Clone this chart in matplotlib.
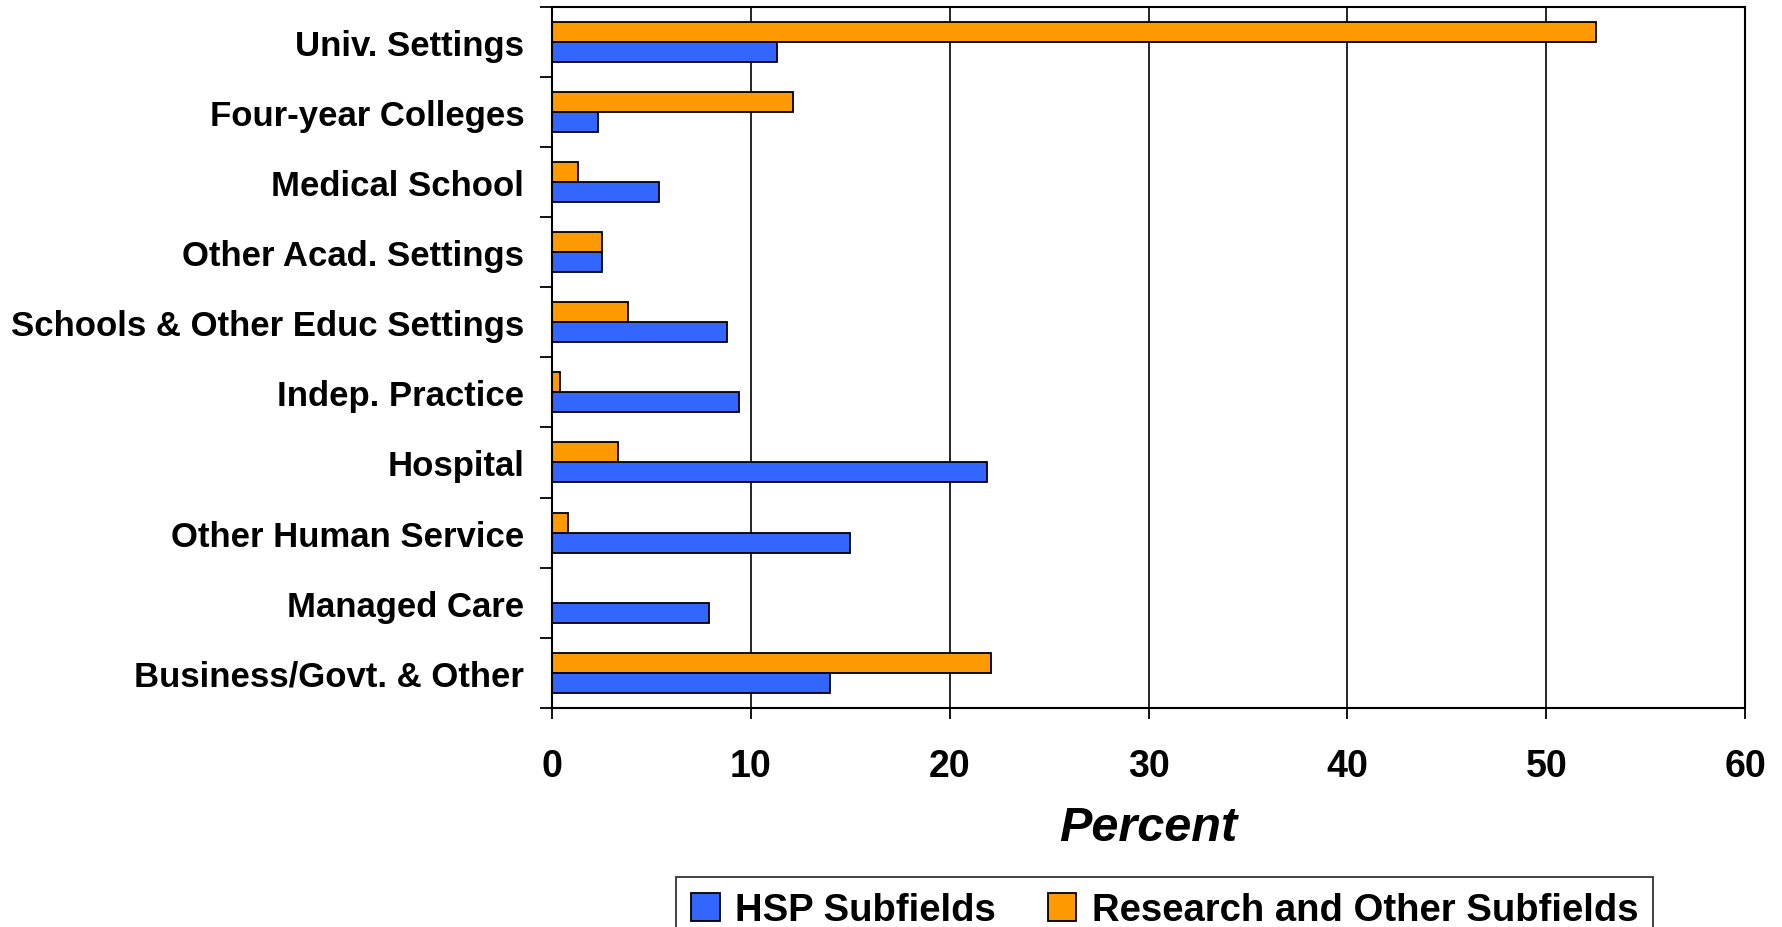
import matplotlib.pyplot as plt
import numpy as np

categories = [
    "Univ. Settings",
    "Four-year Colleges",
    "Medical School",
    "Other Acad. Settings",
    "Schools & Other Educ Settings",
    "Indep. Practice",
    "Hospital",
    "Other Human Service",
    "Managed Care",
    "Business/Govt. & Other",
]
hsp_values = [11.3, 2.3, 5.4, 2.5, 8.8, 9.4, 21.9, 15.0, 7.9, 14.0]
research_values = [52.5, 12.1, 1.3, 2.5, 3.8, 0.4, 3.3, 0.8, 0.0, 22.1]
x_ticks = [0, 10, 20, 30, 40, 50, 60]

BLUE = "#3366FF"
ORANGE = "#FF9900"
FONT = ["Liberation Sans", "DejaVu Sans"]

plt.rcParams["font.family"] = FONT
plt.rcParams["font.weight"] = "bold"

fig = plt.figure(figsize=(17.83, 9.28), dpi=100)
ax = fig.add_axes([0.3096, 0.236, 0.9787 - 0.3096, 0.9919 - 0.236])

y = np.arange(len(categories))
h = 0.285
ax.barh(y - h / 2, research_values, height=h, color=ORANGE,
        edgecolor="black", linewidth=1.3, label="Research and Other Subfields", zorder=3)
ax.barh(y + h / 2, hsp_values, height=h, color=BLUE,
        edgecolor="black", linewidth=1.3, label="HSP Subfields", zorder=3)

ax.set_xlim(0, 60)
ax.set_ylim(len(categories) - 0.5, -0.5)
ax.set_xticks(x_ticks)
ax.set_xticklabels([str(v) for v in x_ticks], fontsize=27, fontweight="bold")
ax.set_yticks(y)
ax.set_yticklabels(categories, fontsize=25, fontweight="bold")
ax.set_yticks(np.arange(len(categories) + 1) - 0.5, minor=True)

ax.tick_params(axis="y", which="major", length=0, pad=20)
ax.tick_params(axis="y", which="minor", length=8.5, width=1.3, direction="out")
ax.tick_params(axis="x", which="major", length=8, width=1.3, direction="out", pad=21)

ax.grid(axis="x", color="black", linewidth=1.2, zorder=1)
for spine in ax.spines.values():
    spine.set_linewidth(1.5)
    spine.set_zorder(4)

fig.text(1148 / 1783, 1 - 829 / 928, "Percent", fontsize=35, fontweight="bold",
         fontstyle="italic", ha="center", va="center")

handles, labels = ax.get_legend_handles_labels()
leg = fig.legend(handles[::-1], labels[::-1], loc="upper left",
                 bbox_to_anchor=(676 / 1783, 1 - 878 / 928), ncol=2,
                 fontsize=27.5, frameon=True, fancybox=False, edgecolor="black",
                 handlelength=0.75, handleheight=0.75, handletextpad=0.4,
                 columnspacing=1.35, borderpad=0.4, borderaxespad=0)
leg.get_frame().set_linewidth(1.3)
for t in leg.get_texts():
    t.set_fontweight("bold")

fig.savefig("out.png", dpi=100)
